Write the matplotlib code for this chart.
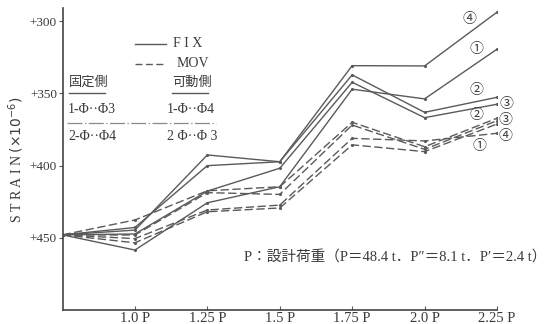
import matplotlib
matplotlib.use("Agg")
import matplotlib.pyplot as plt
from matplotlib.lines import Line2D

# ---- data ----
x_pos = [0, 1, 2, 3, 4, 5, 6]
x_ticks = [1, 2, 3, 4, 5, 6]
x_tick_labels = ["1.0 P", "1.25 P", "1.5 P", "1.75 P", "2.0 P", "2.25 P"]
y_ticks = [300, 350, 400, 450]
y_tick_labels = ["+300", "+350", "+400", "+450"]

fix_4 = [448, 444.7, 392.7, 397.4, 330.9, 331.1, 293.9]
fix_2 = [448, 442.9, 400.1, 397.4, 337.3, 363.2, 352.8]
fix_3 = [448, 447.4, 417.7, 401.9, 342.4, 366.9, 357.6]
fix_1 = [448, 458.5, 425.8, 414.7, 347.2, 353.9, 319.5]

mov_2 = [448, 437.7, 417.5, 414.7, 370.1, 387.0, 367.3]
mov_3 = [448, 448.1, 418.8, 420.0, 372.0, 388.8, 369.0]
mov_4 = [448, 450.6, 430.8, 427.4, 381.2, 383.0, 377.7]
mov_1 = [448, 453.5, 432.0, 429.4, 385.7, 390.4, 371.3]

fix_series = [("④", fix_4, (-28, -7)), ("①", fix_1, (-21, 0)),
              ("②", fix_2, (-21, 7)), ("③", fix_3, (9, 0))]
mov_series = [("②", mov_2, (-21, 3)), ("③", mov_3, (8, 1)),
              ("④", mov_4, (8, -3)), ("①", mov_1, (-18, -22))]

note = "P：設計荷重（P＝48.4 t．P″＝8.1 t．P′＝2.4 t）"

# ---- style ----
line_c = "#5a5a5a"
text_c = "#3a3a3a"
serif = ["Liberation Serif", "Noto Sans CJK JP"]
cjk = ["Noto Sans CJK JP", "Liberation Serif"]

fig = plt.figure(figsize=(5.46, 3.24), dpi=100)
fig.patch.set_facecolor("white")
ax = fig.add_axes([62.5 / 546, 14 / 324, (497 - 62.5) / 546, (310 - 8) / 324])
ax.set_facecolor("white")

for lab, ys, off in fix_series:
    ax.plot(x_pos, ys, color=line_c, lw=1.0, marker='.', ms=2.5, solid_capstyle='butt')
    ax.annotate(lab, xy=(x_pos[-1], ys[-1]), xytext=off, textcoords='offset pixels',
                ha='center', va='center', fontsize=10, color=text_c, family=cjk)
for lab, ys, off in mov_series:
    ax.plot(x_pos, ys, color=line_c, lw=1.0, marker='.', ms=2.5, dashes=(6, 2.5))
    ax.annotate(lab, xy=(x_pos[-1], ys[-1]), xytext=off, textcoords='offset pixels',
                ha='center', va='center', fontsize=10, color=text_c, family=cjk)

ax.set_xlim(0, 6)
ax.set_ylim(500, 291)
ax.set_xticks(x_ticks)
ax.set_xticklabels(x_tick_labels, family=serif, fontsize=10.5, color=text_c)
ax.set_yticks(y_ticks)
ax.set_yticklabels(y_tick_labels, family=serif, fontsize=9.5, color=text_c)
ax.tick_params(axis='x', direction='in', length=3, pad=1.5, color=line_c)
ax.tick_params(axis='y', direction='out', length=3, pad=1, color=line_c)
for s in ["top", "right"]:
    ax.spines[s].set_visible(False)
for s in ["left", "bottom"]:
    ax.spines[s].set_color("#444444")
    ax.spines[s].set_linewidth(1.2)

def fx(px):
    return px / 546

def fy(py):
    return 1 - py / 324

# y label
fig.text(fx(16), fy(160), r"S T R A I N $(\times 10^{-6})$", rotation=90,
         ha='center', va='center', fontsize=10, color=text_c, family=serif)

# legend FIX / MOV
fig.add_artist(Line2D([fx(135), fx(166)], [fy(43.5), fy(43.5)], color=line_c, lw=1.0))
fig.text(fx(173), fy(43.5), "F I X", ha='left', va='center', fontsize=10,
         color=text_c, family=serif)
fig.add_artist(Line2D([fx(135), fx(166)], [fy(63.5), fy(63.5)], color=line_c, lw=1.0,
                      dashes=(5, 2.5)))
fig.text(fx(177), fy(63.5), "MOV", ha='left', va='center', fontsize=10,
         color=text_c, family=serif)

# gauge legend
fig.text(fx(69), fy(82), "固定側", ha='left', va='center', fontsize=9.5,
         color=text_c, family=cjk)
fig.add_artist(Line2D([fx(69), fx(105)], [fy(92.5), fy(92.5)], color=line_c, lw=1.0))
fig.text(fx(172), fy(82), "可動側", ha='left', va='center', fontsize=9.5,
         color=text_c, family=cjk)
fig.add_artist(Line2D([fx(172), fx(208)], [fy(93), fy(93)], color=line_c, lw=1.0))

fig.text(fx(68), fy(110), "1-Φ··Φ3", ha='left', va='center', fontsize=10,
         color=text_c, family=serif)
fig.text(fx(167), fy(110), "1-Φ··Φ4", ha='left', va='center', fontsize=10,
         color=text_c, family=serif)
fig.add_artist(Line2D([fx(67), fx(216)], [fy(122.5), fy(122.5)], color="#8a8a8a",
                      lw=0.9, dashes=(12, 2, 1, 2)))
fig.text(fx(68), fy(137), "2-Φ··Φ4", ha='left', va='center', fontsize=10,
         color=text_c, family=serif)
fig.text(fx(167), fy(137), "2 Φ··Φ 3", ha='left', va='center', fontsize=10,
         color=text_c, family=serif)

# note
fig.text(fx(244), fy(258), note, ha='left', va='center', fontsize=10.5,
         color=text_c, family=serif)

fig.savefig("out.png", dpi=100, facecolor="white")
